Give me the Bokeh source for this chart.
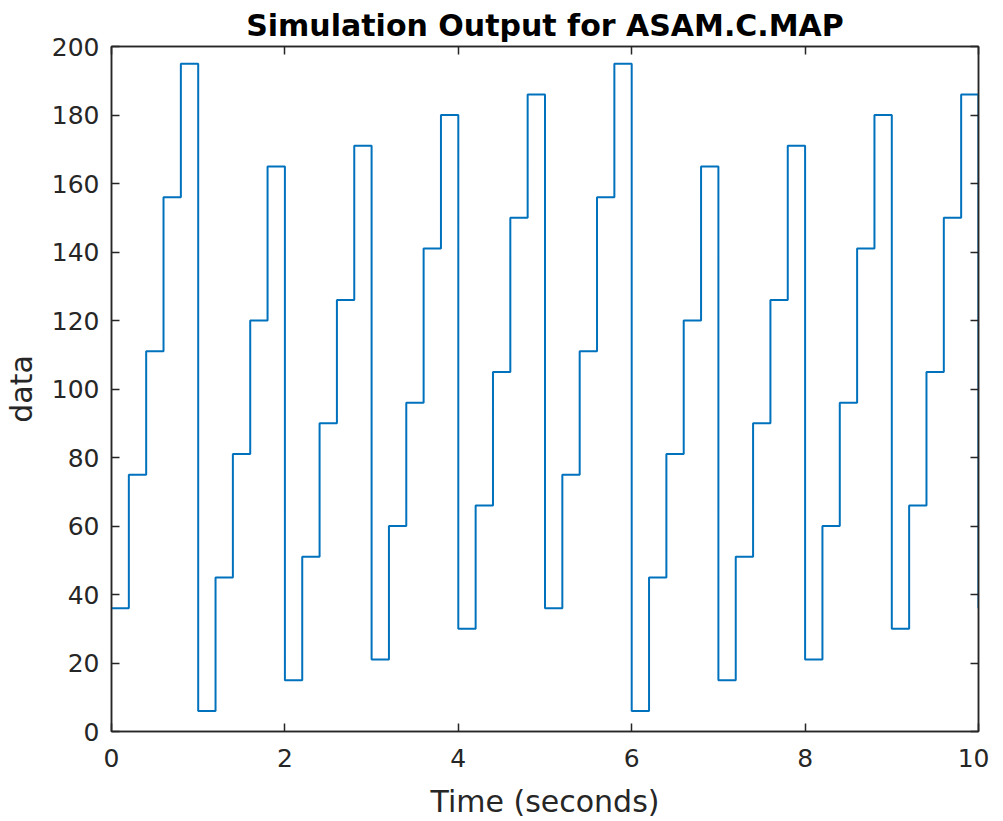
from bokeh.plotting import figure
from bokeh.models import LinearAxis, Range1d, FixedTicker
from bokeh.embed import file_html
from bokeh.resources import INLINE

# Data: stairs signal sampled every 0.2 s
time = [0.0, 0.2, 0.4, 0.6, 0.8, 1.0, 1.2, 1.4, 1.6, 1.8,
        2.0, 2.2, 2.4, 2.6, 2.8, 3.0, 3.2, 3.4, 3.6, 3.8,
        4.0, 4.2, 4.4, 4.6, 4.8, 5.0, 5.2, 5.4, 5.6, 5.8,
        6.0, 6.2, 6.4, 6.6, 6.8, 7.0, 7.2, 7.4, 7.6, 7.8,
        8.0, 8.2, 8.4, 8.6, 8.8, 9.0, 9.2, 9.4, 9.6, 9.8,
        10.0]
data = [36, 75, 111, 156, 195, 6, 45, 81, 120, 165,
        15, 51, 90, 126, 171, 21, 60, 96, 141, 180,
        30, 66, 105, 150, 186, 36, 75, 111, 156, 195,
        6, 45, 81, 120, 165, 15, 51, 90, 126, 171,
        21, 60, 96, 141, 180, 30, 66, 105, 150, 186,
        36]

x_ticks = [0, 2, 4, 6, 8, 10]
y_ticks = [0, 20, 40, 60, 80, 100, 120, 140, 160, 180, 200]

AX = "#262626"
FONT = "DejaVu Sans"

p = figure(frame_width=867, frame_height=685,
           min_border_left=109, min_border_right=11,
           min_border_top=46, min_border_bottom=74,
           x_range=Range1d(0, 10), y_range=Range1d(0, 200),
           output_backend="svg", toolbar_location=None,
           x_axis_location=None, y_axis_location=None,
           title="Simulation Output for ASAM.C.MAP")

p.step(time, data, mode="after", line_color="#0072BD", line_width=2)

p.grid.visible = False
p.background_fill_color = "white"
p.border_fill_color = "white"
p.outline_line_color = AX
p.outline_line_width = 1.5

p.title.align = "center"
p.title.text_font = FONT
p.title.text_font_size = "30px"
p.title.text_font_style = "bold"
p.title.text_color = "#000000"
p.title.standoff = 8


def style_axis(ax, ticks, show_labels):
    ax.ticker = FixedTicker(ticks=ticks)
    ax.axis_line_color = AX
    ax.axis_line_width = 1.5
    ax.major_tick_line_color = AX
    ax.major_tick_line_width = 1.5
    ax.major_tick_in = 8
    ax.major_tick_out = 0
    ax.minor_tick_line_color = None
    ax.major_label_text_font = FONT
    ax.major_label_text_color = AX
    ax.axis_label_text_font = FONT
    ax.axis_label_text_color = AX
    ax.axis_label_text_font_style = "normal"
    ax.axis_label_text_font_size = "30px"
    if show_labels:
        ax.major_label_text_font_size = "25px"
    else:
        ax.major_label_overrides = {t: "" for t in ticks}
        ax.major_label_text_font_size = "1px"
        ax.major_label_standoff = 0


xb = LinearAxis(axis_label="Time (seconds)")
style_axis(xb, x_ticks, True)
xb.major_label_standoff = 17
xb.axis_label_standoff = 14
p.add_layout(xb, "below")

yl = LinearAxis(axis_label="data")
style_axis(yl, y_ticks, True)
yl.major_label_standoff = 12
yl.axis_label_standoff = 10
p.add_layout(yl, "left")

xt = LinearAxis()
style_axis(xt, x_ticks, False)
p.add_layout(xt, "above")

yr = LinearAxis()
style_axis(yr, y_ticks, False)
p.add_layout(yr, "right")

open("out.html", "w").write(file_html(p, INLINE))
